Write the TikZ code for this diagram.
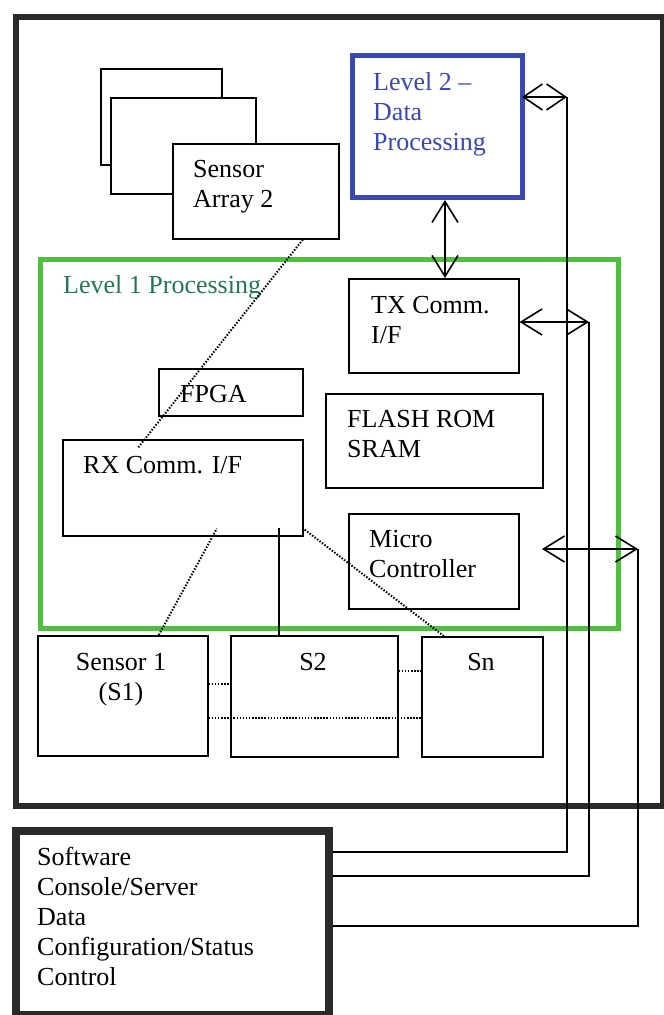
\documentclass[tikz,border=0pt]{standalone}
\usepackage{fontspec}
\setmainfont{Liberation Serif}
\usetikzlibrary{arrows.meta}

\definecolor{lvtwo}{RGB}{58,72,178}
\definecolor{lvone}{RGB}{78,192,62}
\definecolor{lvonetxt}{RGB}{38,118,84}
\definecolor{frame}{RGB}{42,42,42}

\tikzset{
    box/.style={draw, line width=1.6pt, fill=white, inner sep=0pt, anchor=north west},
    txt/.style={font=\fontsize{26}{30}\selectfont, align=left, inner sep=0pt, anchor=base west},
    wire/.style={line width=1.6pt},
    dots/.style={line width=2pt, dash pattern=on 1.5pt off 1.6pt},
    dbl/.style={wire, <->, >={Straight Barb[length=21pt,width=26pt]}}
}

\begin{document}
\begin{tikzpicture}[x=1pt, y=-1pt, line join=miter]
\useasboundingbox (0,0) rectangle (664,1015);

\node[box, draw=frame, line width=5.5pt, fill=none, minimum width=647pt, minimum height=789pt] (field) at (13,14) {};
\node[box, draw=frame, line width=8pt, minimum width=313pt, minimum height=184pt] (sw) at (12,827) {};
\node[box, draw=lvone, line width=5pt, fill=none, minimum width=578pt, minimum height=369pt] (l1) at (38,257) {};
\node[box, draw=lvtwo, line width=5pt, minimum width=170pt, minimum height=142pt] (l2) at (350,53) {};

\node[box, minimum width=121pt, minimum height=96pt] (back) at (100,68) {};
\node[box, minimum width=145pt, minimum height=96pt] (mid) at (110,97) {};
\node[box, minimum width=166pt, minimum height=95pt] (front) at (172,143) {};

\node[box, minimum width=170pt, minimum height=94pt] (tx) at (348,278) {};
\node[box, minimum width=217pt, minimum height=94pt] (flash) at (325,393) {};
\node[box, minimum width=144pt, minimum height=47pt] (fpga) at (158,368) {};
\node[box, minimum width=240pt, minimum height=96pt] (rx) at (62,439) {};
\node[box, minimum width=170pt, minimum height=95pt] (micro) at (348,513) {};

\node[box, minimum width=170pt, minimum height=120pt] (s1) at (37,635) {};
\node[box, minimum width=167pt, minimum height=121pt] (s2) at (230,635) {};
\node[box, minimum width=121pt, minimum height=120pt] (sn) at (421,636) {};

% base of a multi-line node is its last line
\node[txt] (sa2txt) at (193,207) {Sensor\\Array 2};
\node[txt, text=lvtwo] (l2txt) at (373,150) {Level 2 --\\Data\\Processing};
\node[txt, text=lvonetxt] (l1txt) at (63,293) {Level 1 Processing};
\node[txt] (txtxt) at (371,343) {TX Comm.\\I/F};
\node[txt] (fpgatxt) at (180,402) {FPGA};
\node[txt] (flashtxt) at (347,457) {FLASH ROM\\SRAM};
\node[txt] (rxtxt) at (83,473) {RX Comm. I/F};
\node[txt] (microtxt) at (369,577) {Micro\\Controller};
\node[txt, align=center, anchor=base] (s1txt) at (121,700) {Sensor 1\\(S1)};
\node[txt, anchor=base] (s2txt) at (313,670) {S2};
\node[txt, anchor=base] (sntxt) at (481,670) {Sn};
\node[txt] (swtxt) at (37,985) {Software\\Console/Server\\Data\\Configuration/Status\\Control};

\coordinate (m) at (445,0);
\coordinate (atop) at (567,97);
\coordinate (abot) at (567,852);
\coordinate (btop) at (589,322);
\coordinate (bbot) at (589,876);
\coordinate (cfree) at (542,549);
\coordinate (ctop) at (638,549);
\coordinate (cbot) at (638,926);

\draw[dbl] (m |- l2.south) -- (m |- tx.north);

\draw[dbl, >={Straight Barb[length=19pt,width=26pt]}] ([xshift=-3pt]atop -| l2.east) -- (atop);
\draw[wire] (atop) -- (abot) -- (abot -| sw.east);
\draw[dbl] (btop -| tx.east) -- (btop);
\draw[wire] (btop) -- (bbot) -- (bbot -| sw.east);
\draw[dbl] (cfree) -- (ctop);
\draw[wire] (ctop) -- (cbot) -- (cbot -| sw.east);

\draw[dots] ([xshift=47pt]front.south) -- ([xshift=-45pt, yshift=-9pt]rx.north);
\draw[dots] ([xshift=36pt]s1.north) -- ([xshift=34pt, yshift=8pt]rx.south);
\draw[wire] ([xshift=-35.5pt]s2.north) -- ([xshift=96pt, yshift=9pt]rx.south);
\draw[dots] ([xshift=-38.5pt]sn.north) -- ([xshift=1pt, yshift=7pt]rx.south east);

\draw[dots] ([yshift=12pt]s1.east) -- ([yshift=12pt]s1.east -| s2.west);
\draw[dots] ([yshift=-22pt]s1.east) -- ([yshift=-22pt]s1.east -| sn.west);
\draw[dots] ([yshift=25.5pt]s2.east) -- ([yshift=25.5pt]s2.east -| sn.west);
\end{tikzpicture}
\end{document}
